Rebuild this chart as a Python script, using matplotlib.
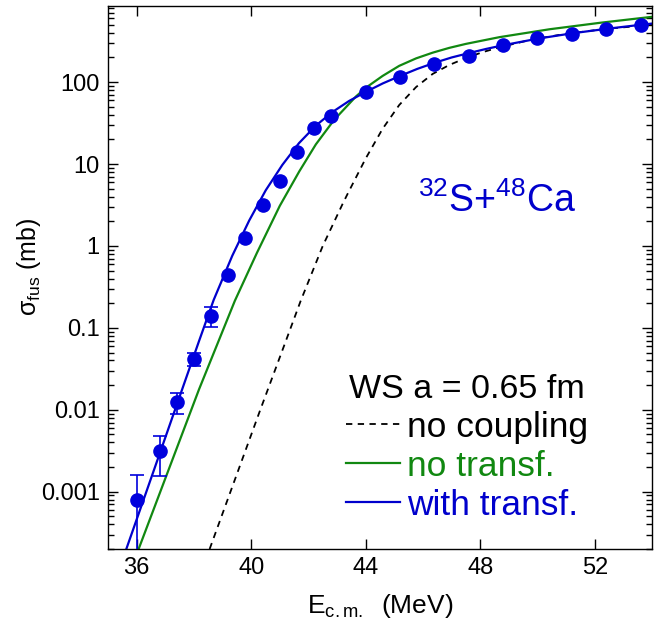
import numpy as np
import matplotlib
matplotlib.use('Agg')
import matplotlib.pyplot as plt
from matplotlib.ticker import LogLocator, NullFormatter, NullLocator
from matplotlib.lines import Line2D

plt.rcParams['font.family'] = ['Liberation Sans', 'DejaVu Sans']
plt.rcParams['mathtext.fontset'] = 'custom'
plt.rcParams['mathtext.rm'] = 'Liberation Sans'
plt.rcParams['mathtext.it'] = 'Liberation Sans:italic'

# ------ measured fusion cross sections (mb) ------
E_exp = [36.0, 36.8, 37.4, 38.0, 38.6, 39.2, 39.8, 40.4, 41.0, 41.6, 42.2,
         42.8, 44.0, 45.2, 46.4, 47.6, 48.8, 50.0, 51.2, 52.4, 53.6]
sig_exp = [7.9e-4, 3.1e-3, 0.0124, 0.042, 0.14, 0.44, 1.24, 3.2, 6.2, 14.2, 27.3,
           39.0, 75.0, 117.0, 168.0, 208.0, 287.0, 346.0, 390.0, 451.0, 505.0]
# error bars only visible for the lowest five points (lower / upper ends)
sig_low = [1.0e-5, 1.57e-3, 0.0090, 0.0344, 0.104]
sig_high = [1.6e-3, 4.74e-3, 0.0160, 0.050, 0.180]

# ------ calculations ------
E_nocoup = [38.55, 40.3, 41.21, 41.73, 42.5, 43.19, 43.36, 44.0, 44.59, 45.17,
            45.76, 46.34, 46.92, 47.5, 48.08, 48.67, 49.8, 51.0, 52.4, 54.0]
sig_nocoup = [2.0e-4, 9.6e-3, 0.0690, 0.214, 1.0, 3.24, 4.27, 11.7, 26.9, 52.5,
              87.1, 126.0, 162.0, 197.0, 232.0, 266.0, 331.0, 389.0, 447.0, 501.0]

E_notr = [36.07, 38.18, 39.43, 40.2, 41.0, 41.68, 42.26, 42.9, 43.66, 44.0,
          44.59, 45.17, 45.76, 46.34, 46.92, 47.5, 48.67, 50.42, 52.2, 54.0]
sig_notr = [2.0e-4, 0.0178, 0.214, 0.822, 3.09, 8.13, 17.4, 34.7, 66.8, 85.1,
            119.0, 158.0, 195.0, 229.0, 262.0, 293.0, 354.0, 442.0, 531.0, 627.0]

E_tr = [35.64, 37.0, 38.18, 38.69, 39.34, 39.93, 40.51, 41.09, 41.67, 42.26,
        42.84, 43.42, 44.0, 44.6, 45.2, 45.8, 46.4, 47.0, 47.6, 48.2, 48.8,
        50.0, 51.2, 52.4, 53.6, 54.0]
sig_tr = [2.0e-4, 4.57e-3, 0.0692, 0.219, 0.759, 2.04, 4.79, 9.77, 18.0, 29.5,
          43.2, 58.9, 75.9, 96.6, 119.0, 145.0, 172.0, 200.0, 226.0, 254.0, 282.0,
          339.0, 394.0, 447.0, 501.0, 519.0]

blue = '#0000cc'
dot_blue = '#0000dd'
green = '#118811'
dash = (0, (3.5, 3))

fig = plt.figure(figsize=(6.54, 6.34), dpi=100)
ax = fig.add_axes([108/654, 85/634, 544/654, 543/634])

ax.plot(E_nocoup, sig_nocoup, color='black', lw=1.3, ls=dash)
ax.plot(E_notr, sig_notr, color=green, lw=1.6)
ax.plot(E_tr, sig_tr, color=blue, lw=1.6)

n_err = len(sig_low)
yerr = [np.array(sig_exp[:n_err]) - np.array(sig_low),
        np.array(sig_high) - np.array(sig_exp[:n_err])]
ax.errorbar(E_exp[:n_err], sig_exp[:n_err], yerr=yerr, fmt='none',
            ecolor=dot_blue, elinewidth=1.2, capsize=5, capthick=1.2, zorder=3)
ax.plot(E_exp, sig_exp, 'o', color=dot_blue, ms=9.5, zorder=4)

ax.set_yscale('log')
ax.set_xlim(35, 54)
ax.set_ylim(2.0e-4, 850)

ax.set_xticks([36, 40, 44, 48, 52])
ax.xaxis.set_minor_locator(NullLocator())
ax.set_yticks([1e-3, 1e-2, 1e-1, 1, 10, 100])
ax.set_yticklabels(['0.001', '0.01', '0.1', '1', '10', '100'])
ax.yaxis.set_minor_locator(LogLocator(base=10, subs=np.arange(2, 10)))
ax.yaxis.set_minor_formatter(NullFormatter())

ax.tick_params(which='both', direction='in', top=True, right=True, width=1.0,
               labelsize=17)
ax.tick_params(which='major', length=7, pad=6)
ax.tick_params(which='minor', length=4.5)
for s in ax.spines.values():
    s.set_linewidth(1.0)

ax.set_xlabel('E$_{\\rm c.m.}$  (MeV)', fontsize=19, labelpad=9)
ax.set_ylabel('σ$_{\\rm fus}$ (mb)', fontsize=18)
ax.yaxis.set_label_coords(-0.12, 0.52)

ax.text(0.57, 0.62, '$^{32}$S+$^{48}$Ca', transform=ax.transAxes, color=blue,
        fontsize=27, ha='left', va='baseline')

handles = [Line2D([], [], color='black', lw=1.3, ls=dash),
           Line2D([], [], color=green, lw=1.6),
           Line2D([], [], color=blue, lw=1.6)]
labels = ['no coupling', 'no transf.', 'with transf.']
leg = ax.legend(handles, labels, title='WS a = 0.65 fm', loc='lower right',
                bbox_to_anchor=(0.882, 0.05), frameon=False, fontsize=25.5,
                title_fontsize=24.5, handlelength=1.5, handletextpad=0.2,
                labelspacing=0.17, borderpad=0, borderaxespad=0)
leg._legend_box.align = 'center'
for t, c in zip(leg.get_texts(), ['black', green, blue]):
    t.set_color(c)

fig.savefig('out.png', dpi=100)
